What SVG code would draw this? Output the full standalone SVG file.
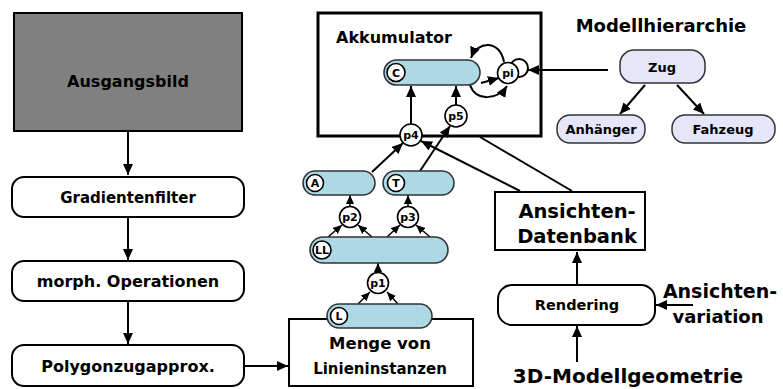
<svg xmlns="http://www.w3.org/2000/svg" width="783" height="389" viewBox="0 0 783 389">
<style>
text{font-family:"DejaVu Sans","Liberation Sans",sans-serif;font-weight:bold;fill:#000;text-anchor:middle}
.box{fill:#fff;stroke:#000;stroke-width:2}
.bbox{fill:none;stroke:#000;stroke-width:3}
.cap{fill:#add8e6;stroke:#333;stroke-width:1.6}
.lav{fill:#e6e6fa;stroke:#333;stroke-width:1.5}
.pc{fill:#fff;stroke:#000;stroke-width:1.6}
.ln{fill:none;stroke:#000;stroke-width:2}
.lt{fill:none;stroke:#000;stroke-width:1.5}
.s{font-size:11px}
</style>
<defs>
<marker id="ah" markerUnits="userSpaceOnUse" markerWidth="12" markerHeight="10" refX="11" refY="5" orient="auto"><path d="M0,0 L11,5 L0,10 z" fill="#000"/></marker>
<marker id="as" markerUnits="userSpaceOnUse" markerWidth="9" markerHeight="8" refX="9" refY="4" orient="auto"><path d="M0,0 L9,4 L0,8 z" fill="#000"/></marker>
</defs>

<g id="akkumulator"><rect class="bbox" x="318" y="13" width="223" height="123"/><text x="394" y="43" font-size="16">Akkumulator</text></g>

<g id="connectors">
<line class="ln" x1="128" y1="131" x2="128" y2="175" marker-end="url(#ah)"/>
<line class="ln" x1="128" y1="217" x2="128" y2="260" marker-end="url(#ah)"/>
<line class="ln" x1="128" y1="301" x2="128" y2="344" marker-end="url(#ah)"/>
<line class="ln" x1="244" y1="366" x2="288" y2="366" marker-end="url(#ah)"/>
<line class="lt" x1="358" y1="304" x2="370" y2="292" marker-end="url(#as)"/>
<line class="lt" x1="398" y1="304" x2="387" y2="292" marker-end="url(#as)"/>
<line class="lt" x1="378" y1="272" x2="378" y2="263" marker-end="url(#as)"/>
<line class="lt" x1="328" y1="237" x2="342" y2="225" marker-end="url(#as)"/>
<line class="lt" x1="372" y1="237" x2="358" y2="225" marker-end="url(#as)"/>
<line class="lt" x1="387" y1="237" x2="400" y2="225" marker-end="url(#as)"/>
<line class="lt" x1="430" y1="237" x2="416" y2="225" marker-end="url(#as)"/>
<line class="lt" x1="350" y1="207" x2="350" y2="195" marker-end="url(#as)"/>
<line class="lt" x1="408" y1="207" x2="408" y2="195" marker-end="url(#as)"/>
<line class="ln" x1="372" y1="172" x2="403" y2="143" marker-end="url(#ah)"/>
<line class="ln" x1="520" y1="191" x2="421" y2="141" marker-end="url(#ah)"/>
<line class="ln" x1="420" y1="171" x2="450" y2="126" marker-end="url(#ah)"/>
<line class="ln" x1="480" y1="137" x2="572" y2="191"/>
<line class="ln" x1="411" y1="124" x2="411" y2="86" marker-end="url(#ah)"/>
<line class="ln" x1="456" y1="105" x2="456" y2="86" marker-end="url(#ah)"/>
<path class="ln" d="M504,62 C500,40 478,40 471,58" marker-end="url(#ah)"/>
<line class="ln" x1="481" y1="83" x2="499" y2="78" marker-end="url(#ah)"/>
<path class="ln" d="M470,85 C476,102 498,100 507,86" marker-end="url(#ah)"/>
<circle class="ln" cx="519" cy="68" r="9"/>
<line class="ln" x1="608" y1="70" x2="528" y2="70" marker-end="url(#ah)"/>
<line class="ln" x1="645" y1="85" x2="620" y2="114" marker-end="url(#ah)"/>
<line class="ln" x1="677" y1="85" x2="704" y2="114" marker-end="url(#ah)"/>
<line class="ln" x1="577" y1="285" x2="577" y2="252" marker-end="url(#ah)"/>
<line class="ln" x1="577" y1="362" x2="577" y2="326" marker-end="url(#ah)"/>
<line class="ln" x1="693" y1="305" x2="656" y2="305" marker-end="url(#ah)"/>
</g>

<g id="ausgangsbild"><rect x="14" y="13" width="228" height="118" fill="#808080" stroke="#000" stroke-width="2"/><text x="128" y="87" font-size="16">Ausgangsbild</text></g>
<g id="gradientenfilter"><rect class="box" x="12" y="177" width="232" height="40" rx="12"/><text x="128" y="203" font-size="15">Gradientenfilter</text></g>
<g id="morph"><rect class="box" x="12" y="261" width="232" height="40" rx="12"/><text x="128" y="287" font-size="16">morph. Operationen</text></g>
<g id="polygon"><rect class="box" x="12" y="345" width="232" height="41" rx="12"/><text x="128" y="372" font-size="16">Polygonzugapprox.</text></g>

<g id="menge"><rect class="box" x="289" y="319" width="184" height="67"/><text x="380" y="349" font-size="16.5">Menge von</text><text x="380" y="374" font-size="15">Linieninstanzen</text></g>

<g id="capC"><rect class="cap" x="384" y="60" width="96" height="25" rx="12.5"/><circle class="pc" cx="396" cy="72.5" r="9"/><text class="s" x="396" y="77" font-size="12">C</text></g>
<g id="capA"><rect class="cap" x="303" y="171" width="72" height="24" rx="12"/><circle class="pc" cx="315" cy="183" r="8.5"/><text class="s" x="315" y="187">A</text></g>
<g id="capT"><rect class="cap" x="383" y="171" width="71" height="24" rx="12"/><circle class="pc" cx="396" cy="183" r="8.5"/><text class="s" x="396" y="187">T</text></g>
<g id="capLL"><rect class="cap" x="310" y="237" width="138" height="26" rx="13"/><circle class="pc" cx="322" cy="250" r="9"/><text class="s" x="322" y="254" font-size="10">LL</text></g>
<g id="capL"><rect class="cap" x="327" y="304" width="105" height="24" rx="12"/><circle class="pc" cx="339" cy="316" r="8.5"/><text class="s" x="339" y="320">L</text></g>

<g id="p1"><circle class="pc" cx="378" cy="283" r="10.5"/><text class="s" x="378" y="287" font-size="12">p1</text></g>
<g id="p2"><circle class="pc" cx="350" cy="217" r="10.5"/><text class="s" x="350" y="221" font-size="12">p2</text></g>
<g id="p3"><circle class="pc" cx="408" cy="217" r="10.5"/><text class="s" x="408" y="221" font-size="12">p3</text></g>
<g id="p4"><circle class="pc" cx="411" cy="135" r="11"/><text class="s" x="411" y="139" font-size="12">p4</text></g>
<g id="p5"><circle class="pc" cx="456" cy="116" r="11"/><text class="s" x="456" y="120" font-size="12">p5</text></g>
<g id="pi"><circle class="pc" cx="508" cy="73" r="10.5"/><text class="s" x="508" y="77" font-size="12">pi</text></g>

<g id="modellhierarchie"><text x="661" y="32" font-size="18">Modellhierarchie</text></g>
<g id="zug"><rect class="lav" x="620" y="50" width="85" height="33" rx="14"/><text x="662" y="72" font-size="13">Zug</text></g>
<g id="anhaenger"><rect class="lav" x="557" y="115" width="88" height="28" rx="13"/><text x="601" y="134" font-size="13">Anhänger</text></g>
<g id="fahzeug"><rect class="lav" x="672" y="115" width="103" height="28" rx="13"/><text x="723" y="134" font-size="13">Fahzeug</text></g>

<g id="datenbank"><rect class="box" x="495" y="192" width="150" height="58"/><text x="577" y="218" font-size="19.5">Ansichten-</text><text x="577" y="243" font-size="19.5">Datenbank</text></g>
<g id="rendering"><rect class="box" x="498" y="285" width="157" height="40" rx="14"/><text x="577" y="310" font-size="14.5">Rendering</text></g>
<g id="variation"><text x="720" y="298" font-size="19">Ansichten-</text><text x="718" y="323" font-size="18">variation</text></g>
<g id="geometrie"><text x="628" y="383" font-size="20">3D-Modellgeometrie</text></g>
</svg>
